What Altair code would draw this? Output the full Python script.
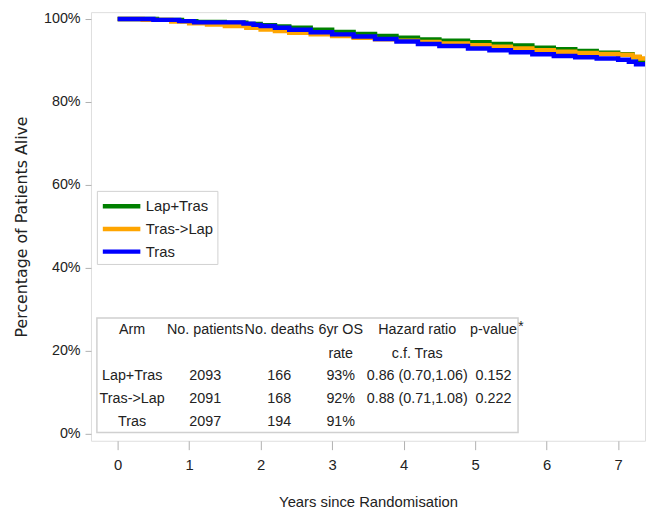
import altair as alt
import pandas as pd

# ---- survival curves (years, % alive) ----
arms = ["Lap+Tras", "Tras->Lap", "Tras"]
colors = ["#008000", "#FFA500", "#0000FF"]

lap_tras_t = [0, 0.55, 0.9, 1.1, 1.5, 1.8, 2.0, 2.2, 2.4, 2.7, 3.0, 3.3, 3.6, 3.9, 4.2, 4.5, 4.9, 5.2, 5.5, 5.8, 6.1, 6.4, 6.7, 7.0, 7.2, 7.3, 7.4]
lap_tras_s = [100, 99.8, 99.5, 99.3, 99.1, 98.8, 98.5, 98.2, 97.9, 97.4, 96.9, 96.4, 95.9, 95.5, 95.1, 94.8, 94.4, 94.0, 93.6, 93.1, 92.7, 92.3, 91.9, 91.5, 90.8, 90.2, 90.2]

tras_lap_t = [0, 0.35, 0.75, 1.0, 1.25, 1.5, 1.8, 2.0, 2.2, 2.4, 2.7, 3.0, 3.3, 3.6, 3.9, 4.2, 4.5, 4.9, 5.2, 5.5, 5.8, 6.1, 6.4, 6.7, 7.0, 7.2, 7.3, 7.4]
tras_lap_s = [100, 99.8, 99.4, 99.0, 98.7, 98.3, 97.9, 97.5, 97.1, 96.7, 96.3, 95.9, 95.5, 95.1, 94.8, 94.5, 94.1, 93.7, 93.3, 92.9, 92.5, 92.1, 91.8, 91.6, 91.4, 90.9, 90.5, 90.5]

tras_t = [0, 0.5, 0.86, 1.07, 1.76, 1.9, 2.0, 2.2, 2.4, 2.7, 3.0, 3.3, 3.6, 3.9, 4.2, 4.5, 4.9, 5.2, 5.5, 5.8, 6.1, 6.4, 6.7, 7.0, 7.15, 7.25, 7.4]
tras_s = [100, 99.8, 99.5, 99.2, 98.9, 98.6, 98.3, 97.9, 97.4, 96.8, 96.3, 95.8, 95.2, 94.6, 94.0, 93.5, 92.9, 92.5, 92.0, 91.5, 91.1, 90.8, 90.5, 90.2, 89.7, 89.1, 89.1]

# ---- summary table ----
hdr1 = ["Arm", "No. patients", "No. deaths", "6yr OS", "Hazard ratio", "p-value"]
hdr2 = ["", "", "", "rate", "c.f. Tras", ""]
n_patients = ["2093", "2091", "2097"]
n_deaths = ["166", "168", "194"]
os6 = ["93%", "92%", "91%"]
hazard = ["0.86 (0.70,1.06)", "0.88 (0.71,1.08)", ""]
pvalue = ["0.152", "0.222", ""]

x_ticks = [0, 1, 2, 3, 4, 5, 6, 7]
y_ticks = [0, 20, 40, 60, 80, 100]

# ---- build tables ----
rows = []
for arm, ts, ss in [(arms[0], lap_tras_t, lap_tras_s), (arms[1], tras_lap_t, tras_lap_s), (arms[2], tras_t, tras_s)]:
    for t, s in zip(ts, ss):
        rows.append({"arm": arm, "t": t, "s": s})
curves = pd.DataFrame(rows)

# layout of the table (column centres in years, row centres in %)
col_x = [0.203, 1.225, 2.26, 3.12, 4.19, 5.257]
row_y = [25.0, 19.3, 13.93, 8.45, 2.86]
cells = []
columns = [[hdr1[i], hdr2[i]] for i in range(6)]
body = [arms, n_patients, n_deaths, os6, hazard, pvalue]
for c in range(6):
    texts = columns[c] + list(body[c])
    for r, txt in enumerate(texts):
        if txt:
            cells.append({"x": col_x[c], "y": row_y[r], "txt": txt})
cells_df = pd.DataFrame(cells)

FONT = "Liberation Sans, Arial, sans-serif"
FS = 14.5
XDOM = [-0.373, 7.376]
YDOM = [-1.67, 101.67]

xs = alt.Scale(domain=XDOM, nice=False, zero=False)
ys = alt.Scale(domain=YDOM, nice=False, zero=False)

lines = alt.Chart(curves).mark_line(interpolate="step-after", strokeWidth=4.5, clip=True).encode(
    x=alt.X("t:Q", scale=xs, title="Years since Randomisation",
            axis=alt.Axis(values=x_ticks, format="d", grid=False, domain=False, tickSize=9, tickColor="#b0b0b0",
                          labelPadding=8, labelFont=FONT, labelFontSize=15, labelColor="#222222",
                          titleFont=FONT, titleFontSize=15, titleFontWeight="normal", titleColor="#222222",
                          titleBaseline="middle", titleY=62)),
    y=alt.Y("s:Q", scale=ys, title="Percentage of Patients Alive",
            axis=alt.Axis(values=y_ticks, grid=False, domain=False, tickSize=6, tickColor="#b0b0b0",
                          labelPadding=5, labelFont=FONT, labelFontSize=14.5, labelColor="#222222",
                          labelExpr="datum.value + '%'",
                          titleFont="DejaVu Sans", titleFontSize=16, titleFontWeight="normal",
                          titleColor="#222222", titleAngle=270, titleBaseline="middle", titleX=-70)),
    color=alt.Color("arm:N", scale=alt.Scale(domain=arms, range=colors),
                    legend=alt.Legend(title=None, orient="none", legendX=6, legendY=181,
                                      symbolType="M-1,0H3", symbolSize=361, symbolStrokeWidth=4.5,
                                      labelFont=FONT, labelFontSize=15, labelColor="#222222",
                                      labelOffset=22, rowPadding=2, padding=3.5,
                                      strokeColor="#d0d0d0", fillColor="white")),
    order=alt.Order("t:Q"),
)

box = alt.Chart(pd.DataFrame({"x": [-0.29], "x2": [5.60], "y": [0.33], "y2": [27.9]})).mark_rect(
    fill="white", stroke="#d0d0d0", strokeWidth=1.5
).encode(x=alt.X("x:Q", scale=xs), x2="x2:Q", y=alt.Y("y:Q", scale=ys), y2="y2:Q")

table = alt.Chart(cells_df).mark_text(font=FONT, fontSize=FS, color="#222222", baseline="middle", align="center").encode(
    x=alt.X("x:Q", scale=xs), y=alt.Y("y:Q", scale=ys), text="txt:N"
)

star = alt.Chart(pd.DataFrame({"x": [5.64], "y": [25.8], "txt": ["*"]})).mark_text(
    font=FONT, fontSize=14, color="#222222", baseline="middle", align="center"
).encode(x=alt.X("x:Q", scale=xs), y=alt.Y("y:Q", scale=ys), text="txt:N")

chart = alt.layer(box, table, star, lines).properties(
    width=561, height=434,
    autosize=alt.AutoSizeParams(type="none"),
    padding={"left": 84, "top": 1, "right": 3, "bottom": 72},
).configure_view(stroke="#c8c8c8", strokeWidth=1.5).configure(background="white")

chart.save("out.html", embed_options={"renderer": "svg", "actions": False})
